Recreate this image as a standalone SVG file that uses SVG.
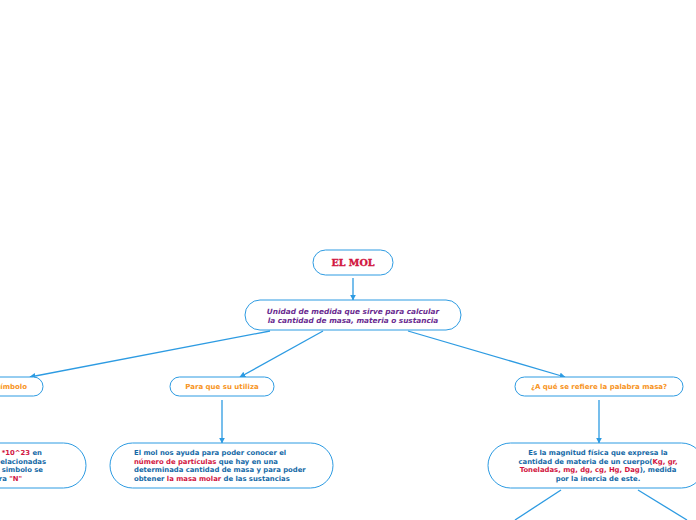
<svg xmlns="http://www.w3.org/2000/svg" width="696" height="520" viewBox="0 0 696 520">
<defs>
<style>
.n{fill:#fff;stroke:#2d9be2;stroke-width:1}
.c{stroke:#2d9be2;stroke-width:1.3;fill:none;marker-end:url(#ah)}
.cn{stroke:#2d9be2;stroke-width:1.3;fill:none}
.t{font-family:"DejaVu Sans",Verdana,sans-serif;font-weight:bold;font-size:6.85px;fill:#1469a6}
.o{fill:#f7941d;font-size:7px}
.r{fill:#d1163f}
.p{fill:#6a2b90;font-style:italic;font-size:7.35px}
.title{font-family:"DejaVu Serif","Liberation Serif",serif;font-weight:bold;font-size:9.6px;fill:#d1163f;stroke:#d1163f;stroke-width:0.35}
</style>
<marker id="ah" viewBox="0 0 10 10" refX="9" refY="5" markerWidth="6" markerHeight="6" orient="auto" markerUnits="userSpaceOnUse">
<path d="M0,0 L10,5 L0,10 z" fill="#2d9be2"/>
</marker>
</defs>
<rect width="696" height="520" fill="#fff"/>
<g id="connectors">
<line class="c" x1="353" y1="278" x2="353" y2="300"/>
<line class="c" x1="270" y1="331" x2="30" y2="377"/>
<line class="c" x1="323" y1="331" x2="240" y2="377"/>
<line class="c" x1="408" y1="331" x2="565" y2="377"/>
<line class="c" x1="222" y1="400" x2="222" y2="443"/>
<line class="c" x1="599" y1="400" x2="599" y2="443"/>
<line class="cn" x1="561" y1="490" x2="515" y2="520"/>
<line class="cn" x1="638" y1="490" x2="687" y2="520"/>
</g>
<g id="n-elmol">
<rect class="n" x="313" y="250" width="80" height="25" rx="12.5"/>
<text class="title" x="353" y="266" text-anchor="middle">EL MOL</text>
</g>
<g id="n-unidad">
<rect class="n" x="245" y="300" width="216" height="30" rx="15"/>
<text class="t p" x="353" y="314" text-anchor="middle">Unidad de medida que sirve para calcular</text>
<text class="t p" x="353" y="323" text-anchor="middle">la cantidad de masa, materia o sustancia</text>
</g>
<g id="n-simbolo">
<rect class="n" x="-40" y="377" width="83" height="19" rx="9.5"/>
<text class="t o" x="27" y="389" text-anchor="end">Símbolo</text>
</g>
<g id="n-para">
<rect class="n" x="170" y="377" width="104" height="19" rx="9.5"/>
<text class="t o" x="222" y="389" text-anchor="middle">Para que su utiliza</text>
</g>
<g id="n-aque">
<rect class="n" x="515" y="377" width="168" height="19" rx="9.5"/>
<text class="t o" x="599" y="389" text-anchor="middle">¿A qué se refiere la palabra masa?</text>
</g>
<g id="n-left">
<rect class="n" x="-60" y="443" width="146" height="45" rx="22.5"/>
<text class="t" x="42" y="455" text-anchor="end"><tspan class="r">*10^23</tspan> en</text>
<text class="t" x="46" y="463.5" text-anchor="end">elacionadas</text>
<text class="t" x="43" y="472" text-anchor="end">l simbolo se</text>
<text class="t" x="22" y="480.5" text-anchor="end">ra <tspan class="r">"N"</tspan></text>
</g>
<g id="n-elmol-ayuda">
<rect class="n" x="110" y="443" width="223" height="45" rx="22.5"/>
<text class="t" x="134" y="455">El mol nos ayuda para poder conocer el</text>
<text class="t" x="134" y="463.5"><tspan class="r">número de partículas</tspan> que hay en una</text>
<text class="t" x="134" y="472">determinada cantidad de masa y para poder</text>
<text class="t" x="134" y="480.5">obtener <tspan class="r">la masa molar</tspan> de las sustancias</text>
</g>
<g id="n-magnitud">
<rect class="n" x="488" y="443" width="216" height="45" rx="22.5"/>
<text class="t" x="598" y="455" text-anchor="middle">Es la magnitud física que expresa la</text>
<text class="t" x="598" y="463.5" text-anchor="middle">cantidad de materia de un cuerpo(<tspan class="r">Kg, gr,</tspan></text>
<text class="t" x="598" y="472" text-anchor="middle"><tspan class="r">Toneladas, mg, dg, cg, Hg, Dag</tspan>), medida</text>
<text class="t" x="598" y="480.5" text-anchor="middle">por la inercia de este.</text>
</g>
</svg>
